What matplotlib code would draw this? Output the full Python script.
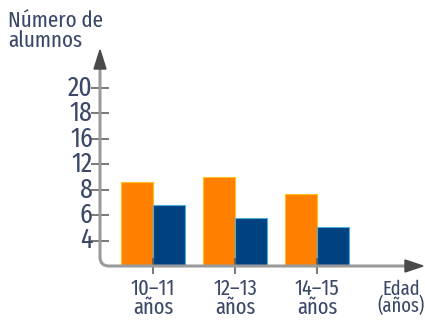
import numpy as np
import matplotlib
matplotlib.use("Agg")
import matplotlib.pyplot as plt
from matplotlib.patches import PathPatch, Polygon
from matplotlib.path import Path
from matplotlib.transforms import IdentityTransform

# ---- data ----
categories = ["10–11\naños", "12–13\naños", "14–15\naños"]
orange_vals = [9.2, 10.0, 7.7]
blue_vals = [6.8, 5.8, 5.1]
ytick_vals = [4, 6, 8, 12, 16, 18, 20]
ytick_labels = ["4", "6", "8", "12", "16", "18", "20"]
ylabel_text = "Número de\nalumnos"
xlabel_text = "Edad\n(años)"

# irregular (evenly spaced) value axis
scale_vals = np.array([2, 4, 6, 8, 12, 16, 18, 20], dtype=float)
scale_pos = np.arange(len(scale_vals), dtype=float)

def fwd(v):
    v = np.asarray(v, dtype=float)
    out = np.interp(v, scale_vals, scale_pos)
    out = np.where(v > 20, 7 + (v - 20) / 2, out)
    out = np.where(v < 2, (v - 2) / 2, out)
    return out

def inv(p):
    p = np.asarray(p, dtype=float)
    out = np.interp(p, scale_pos, scale_vals)
    out = np.where(p > 7, 20 + (p - 7) * 2, out)
    out = np.where(p < 0, 2 + p * 2, out)
    return out

import logging
logging.getLogger('matplotlib.font_manager').setLevel(logging.ERROR)
plt.rcParams['font.family'] = ['Fira Sans Extra Condensed', 'PT Sans Narrow', 'Roboto Condensed',
                               'Liberation Sans Narrow', 'DejaVu Sans']
text_color = '#3b4868'

W, H = 425, 327
fig = plt.figure(figsize=(W / 100, H / 100), dpi=100)

ax_left, ax_bottom, ax_right, ax_top = 100, 266, 420, 88  # pixel (top-origin)
ax = fig.add_axes([ax_left / W, (H - ax_bottom) / H,
                   (ax_right - ax_left) / W, (ax_bottom - ax_top) / H])
ax.set_yscale('function', functions=(fwd, inv))
base = 2
ax.set_ylim(base, 20)
ax.set_xlim(-0.646, 3.256)

x = np.arange(len(categories))
bw = 0.39
ax.bar(x - bw / 2, np.array(orange_vals) - base, width=bw, bottom=base, color='#FF8000',
       edgecolor='#FFC020', linewidth=0.8, zorder=2)
ax.bar(x + bw / 2, np.array(blue_vals) - base, width=bw, bottom=base, color='#00427F',
       edgecolor='#4aaee0', linewidth=0.8, zorder=2)

for s in ax.spines.values():
    s.set_visible(False)

ax.set_yticks(ytick_vals)
ax.set_yticklabels(ytick_labels)
ax.yaxis.set_minor_locator(matplotlib.ticker.NullLocator())
ax.tick_params(axis='y', direction='inout', length=12.5, width=1.1,
               color='#555555', pad=-1, labelsize=20, labelcolor=text_color)
ax.set_xticks(x)
ax.set_xticklabels(categories, linespacing=0.85)
ax.tick_params(axis='x', direction='inout', length=12, width=1.1,
               color='#555555', pad=3, labelsize=16, labelcolor=text_color)
for t in ax.get_yticklabels():
    t.set_verticalalignment('center')
for t in ax.xaxis.get_major_ticks():
    t.tick1line.set_zorder(5)
ax.set_axisbelow(False)
ax.patch.set_alpha(0)

# axis lines with rounded corner (pixel coordinates, bottom origin)
ident = IdentityTransform()
xa = ax_left
yb = H - ax_bottom
r = 9
verts = [(xa, H - 62), (xa, yb + r), (xa, yb), (xa + r, yb), (412, yb)]
codes = [Path.MOVETO, Path.LINETO, Path.CURVE3, Path.CURVE3, Path.LINETO]
fig.patches.append(PathPatch(Path(verts, codes), transform=ident, fill=False,
                             edgecolor='#9a9a9a', linewidth=2.2, zorder=1))
fig.patches.append(Polygon([(xa, H - 50), (xa - 6, H - 69), (xa + 6, H - 69)],
                           closed=True, transform=ident, color='#4a4a4a'))
fig.patches.append(Polygon([(423, yb), (405, yb + 6), (405, yb - 6)],
                           closed=True, transform=ident, color='#4a4a4a'))

fig.text(8 / W, 1 - 10 / H, ylabel_text, ha='left', va='top', fontsize=16.5,
         color=text_color, linespacing=0.95)
fig.text(401 / W, 1 - 279 / H, xlabel_text, ha='center', va='top', fontsize=14.5,
         color=text_color, linespacing=0.85)

fig.savefig('out.png', dpi=100)
